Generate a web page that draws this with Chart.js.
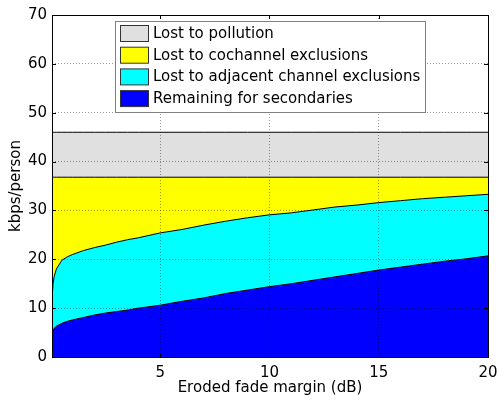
<!DOCTYPE html>
<html>
<head>
<meta charset="utf-8">
<script src="https://cdn.jsdelivr.net/npm/chart.js@4.4.0/dist/chart.umd.min.js"></script>
<style>
  html, body { margin: 0; padding: 0; background: #fff; }
</style>
</head>
<body>
<canvas id="fadeChart" width="497" height="404"></canvas>
<script>
// eroded fade margin (dB)
const fadeMargin = [0.05, 0.1, 0.15, 0.25, 0.5, 0.75, 1, 1.5, 2, 2.5, 3, 3.5, 4, 5, 6, 7, 8, 9, 10, 11, 12, 13, 14, 15, 16, 17, 18, 19, 20];

// kbps/person, one layer each (stacked bottom to top)
const remaining = [4.5, 5.5, 5.9, 6.3, 6.9, 7.3, 7.6, 8.1, 8.6, 9.0, 9.3, 9.6, 10.0, 10.6, 11.4, 12.1, 13.0, 13.7, 14.4, 15.0, 15.7, 16.4, 17.1, 17.8, 18.4, 19.0, 19.6, 20.1, 20.7];
const adjacentLoss = [7.5, 9.5, 10.6, 11.7, 12.9, 13.2, 13.4, 13.7, 13.8, 13.9, 14.2, 14.4, 14.4, 14.8, 14.7, 14.9, 14.8, 14.8, 14.7, 14.5, 14.4, 14.3, 14.0, 13.8, 13.6, 13.4, 13.1, 12.9, 12.6];
const cochannelLoss = [24.8, 21.8, 20.3, 18.8, 17.0, 16.3, 15.8, 15.0, 14.4, 13.9, 13.3, 12.8, 12.4, 11.4, 10.7, 9.8, 9.0, 8.3, 7.7, 7.3, 6.7, 6.1, 5.7, 5.2, 4.8, 4.4, 4.1, 3.8, 3.5];
const pollutionLoss = [9.2, 9.2, 9.2, 9.2, 9.2, 9.2, 9.2, 9.2, 9.2, 9.2, 9.2, 9.2, 9.2, 9.2, 9.2, 9.2, 9.2, 9.2, 9.2, 9.2, 9.2, 9.2, 9.2, 9.2, 9.2, 9.2, 9.2, 9.2, 9.2];

const xTicks = [5, 10, 15, 20];
const yTicks = [0, 10, 20, 30, 40, 50, 60, 70];

const FONT = { family: 'DejaVu Sans', size: 15 };

function toPoints(vals) {
    return fadeMargin.map((x, i) => ({ x: x, y: vals[i] }));
}

function layer(label, vals, color, fill) {
    return {
        label: label,
        data: toPoints(vals),
        backgroundColor: color,
        borderColor: '#000',
        borderWidth: 1,
        pointRadius: 0,
        tension: 0,
        fill: fill
    };
}

// box, inward tick marks and the boxed legend, matlab style
const matlabBox = {
    id: 'matlabBox',
    afterDraw(chart) {
        const ctx = chart.ctx;
        const a = chart.chartArea;
        const xs = chart.scales.x, ys = chart.scales.y;
        ctx.save();
        ctx.strokeStyle = '#000';
        ctx.lineWidth = 1;
        ctx.beginPath();
        xTicks.forEach(v => {
            const px = Math.round(xs.getPixelForValue(v)) + 0.5;
            ctx.moveTo(px, a.bottom); ctx.lineTo(px, a.bottom - 4);
            ctx.moveTo(px, a.top); ctx.lineTo(px, a.top + 4);
        });
        yTicks.forEach(v => {
            const py = Math.round(ys.getPixelForValue(v)) + 0.5;
            ctx.moveTo(a.left, py); ctx.lineTo(a.left + 4, py);
            ctx.moveTo(a.right, py); ctx.lineTo(a.right - 4, py);
        });
        ctx.stroke();
        ctx.strokeRect(Math.round(a.left) + 0.5, Math.round(a.top) + 0.5,
            Math.round(a.right - a.left), Math.round(a.bottom - a.top));

        // legend
        const lx = 115.5, ly = 21.5, lw = 310, lh = 91;
        ctx.fillStyle = '#fff';
        ctx.fillRect(lx, ly, lw, lh);
        ctx.strokeStyle = '#7f7f7f';
        ctx.strokeRect(lx, ly, lw, lh);
        const sets = chart.data.datasets.slice().reverse();
        ctx.font = FONT.size + 'px ' + FONT.family;
        ctx.textBaseline = 'middle';
        sets.forEach((ds, i) => {
            const y = 25.5 + i * 21.7;
            ctx.fillStyle = ds.backgroundColor;
            ctx.fillRect(120.5, y, 28, 16);
            ctx.strokeStyle = '#333';
            ctx.strokeRect(120.5, y, 28, 16);
            ctx.fillStyle = '#000';
            ctx.fillText(ds.label, 153, y + 8.5);
        });
        ctx.restore();
    }
};

const ctx = document.getElementById('fadeChart').getContext('2d');
const fadeChart = new Chart(ctx, {
    type: 'line',
    data: {
        datasets: [
            layer('Remaining for secondaries', remaining, '#0000ff', 'origin'),
            layer('Lost to adjacent channel exclusions', adjacentLoss, '#00ffff', '-1'),
            layer('Lost to cochannel exclusions', cochannelLoss, '#ffff00', '-1'),
            layer('Lost to pollution', pollutionLoss, '#e0e0e0', '-1')
        ]
    },
    options: {
        responsive: false,
        animation: false,
        layout: { padding: { top: 15, right: 9, left: 0, bottom: 0 } },
        plugins: {
            legend: { display: false },
            tooltip: { enabled: false }
        },
        scales: {
            x: {
                type: 'linear',
                min: 0.05,
                max: 20,
                afterBuildTicks: s => { s.ticks = xTicks.map(v => ({ value: v })); },
                afterFit: s => { s.height = 47; s.paddingLeft = 0; s.paddingRight = 0; },
                grid: { z: 1, color: 'rgba(0,0,0,0.4)', drawTicks: false },
                border: { display: false, dash: [1, 2] },
                ticks: { font: FONT, color: '#000', padding: 7, maxRotation: 0 },
                title: { display: true, text: 'Eroded fade margin (dB)', font: FONT, color: '#000', padding: { top: 0, bottom: 7 } }
            },
            y: {
                stacked: true,
                min: 0,
                max: 70,
                afterBuildTicks: s => { s.ticks = yTicks.map(v => ({ value: v })); },
                afterFit: s => { s.width = 52; s.paddingTop = 0; s.paddingBottom = 0; },
                grid: { z: 1, color: 'rgba(0,0,0,0.4)', drawTicks: false },
                border: { display: false, dash: [1, 2] },
                ticks: { font: FONT, color: '#000', padding: 5 },
                title: { display: true, text: 'kbps/person', font: FONT, color: '#000', padding: { top: 7, bottom: 0 } }
            }
        }
    },
    plugins: [matlabBox]
});
</script>
</body>
</html>
